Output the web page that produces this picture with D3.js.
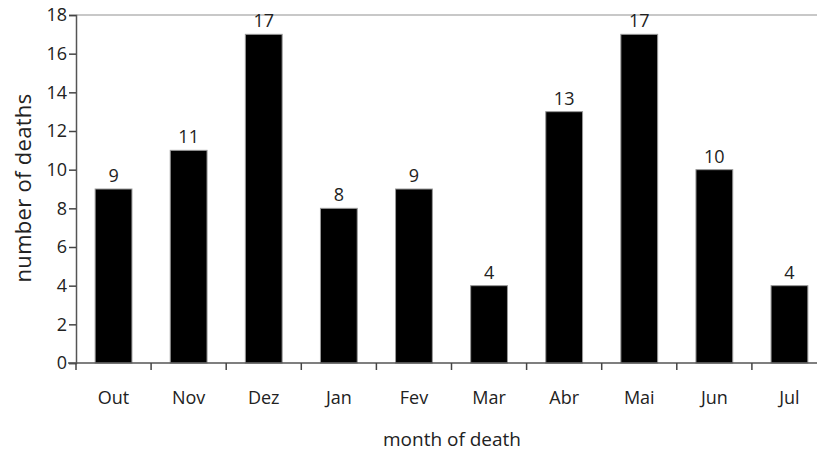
<!DOCTYPE html>
<html>
<head>
<meta charset="utf-8">
<script src="https://cdn.jsdelivr.net/npm/d3@7"></script>
<style>
  body { margin: 0; background: #fff; }
  text { font-family: "Open Sans", "DejaVu Sans", sans-serif; fill: #222; }
</style>
</head>
<body>
<div class="canvas"></div>
<script>
// data
const months = ['Out', 'Nov', 'Dez', 'Jan', 'Fev', 'Mar', 'Abr', 'Mai', 'Jun', 'Jul'];
const deaths = [9, 11, 17, 8, 9, 4, 13, 17, 10, 4];
const yTicks = [0, 2, 4, 6, 8, 10, 12, 14, 16, 18];

const width = 817, height = 451;
const margin = { top: 15, right: -10, bottom: 88, left: 76 };
const graphWidth = width - margin.left - margin.right;
const graphHeight = height - margin.top - margin.bottom;

const svg = d3.select('.canvas')
    .append('svg')
    .attr('width', width)
    .attr('height', height);

const graph = svg.append('g')
    .attr('transform', `translate(${margin.left},${margin.top})`);

const y = d3.scaleLinear()
    .domain([0, 18])
    .range([graphHeight, 0]);

const x = d3.scaleBand()
    .domain(months)
    .range([0, graphWidth])
    .paddingInner(0)
    .paddingOuter(0);

const barW = x.bandwidth() * 0.49;

// grey top border
graph.append('line')
    .attr('x1', 0).attr('x2', width)
    .attr('y1', y(18)).attr('y2', y(18))
    .attr('stroke', '#c8c8c8')
    .attr('stroke-width', 2);

// bars
graph.selectAll('rect.bar')
    .data(deaths)
    .enter()
    .append('rect')
    .attr('class', 'bar')
    .attr('x', (d, i) => x(months[i]) + (x.bandwidth() - barW) / 2)
    .attr('y', d => y(d))
    .attr('width', barW)
    .attr('height', d => graphHeight - y(d))
    .attr('fill', '#000')
    .attr('stroke', '#999')
    .attr('stroke-width', 1);

// value labels
graph.selectAll('text.val')
    .data(deaths)
    .enter()
    .append('text')
    .attr('class', 'val')
    .attr('x', (d, i) => x(months[i]) + x.bandwidth() / 2)
    .attr('y', d => y(d) - 7)
    .attr('text-anchor', 'middle')
    .style('font-size', '18px')
    .text(d => d);

// y axis
const yAxisGroup = graph.append('g');
yAxisGroup.call(d3.axisLeft(y).tickValues(yTicks).tickSize(7).tickPadding(2));
yAxisGroup.select('.domain').attr('stroke', '#555').attr('stroke-width', 1.5);
yAxisGroup.selectAll('.tick line').attr('stroke', '#444').attr('stroke-width', 1.5);
yAxisGroup.selectAll('text')
    .style('font-size', '18px')
    .attr('fill', '#222');

// x axis: baseline + ticks at band boundaries
const xAxisGroup = graph.append('g')
    .attr('transform', `translate(0,${graphHeight})`);
xAxisGroup.append('line')
    .attr('x1', -8).attr('x2', width)
    .attr('stroke', '#555').attr('stroke-width', 1.5);
xAxisGroup.selectAll('line.tk')
    .data(months)
    .enter()
    .append('line')
    .attr('class', 'tk')
    .attr('x1', d => x(d)).attr('x2', d => x(d))
    .attr('y1', 0).attr('y2', 7)
    .attr('stroke', '#444').attr('stroke-width', 1.5);
xAxisGroup.selectAll('text.lbl')
    .data(months)
    .enter()
    .append('text')
    .attr('class', 'lbl')
    .attr('x', d => x(d) + x.bandwidth() / 2)
    .attr('y', 41)
    .attr('text-anchor', 'middle')
    .style('font-size', '18px')
    .text(d => d);

// axis titles
svg.append('text')
    .attr('x', 452)
    .attr('y', 446)
    .attr('text-anchor', 'middle')
    .style('font-size', '19px')
    .text('month of death');

svg.append('text')
    .attr('transform', 'translate(31,188) rotate(-90)')
    .attr('text-anchor', 'middle')
    .style('font-size', '22px')
    .style('letter-spacing', '0.3px')
    .text('number of deaths');
</script>
</body>
</html>
